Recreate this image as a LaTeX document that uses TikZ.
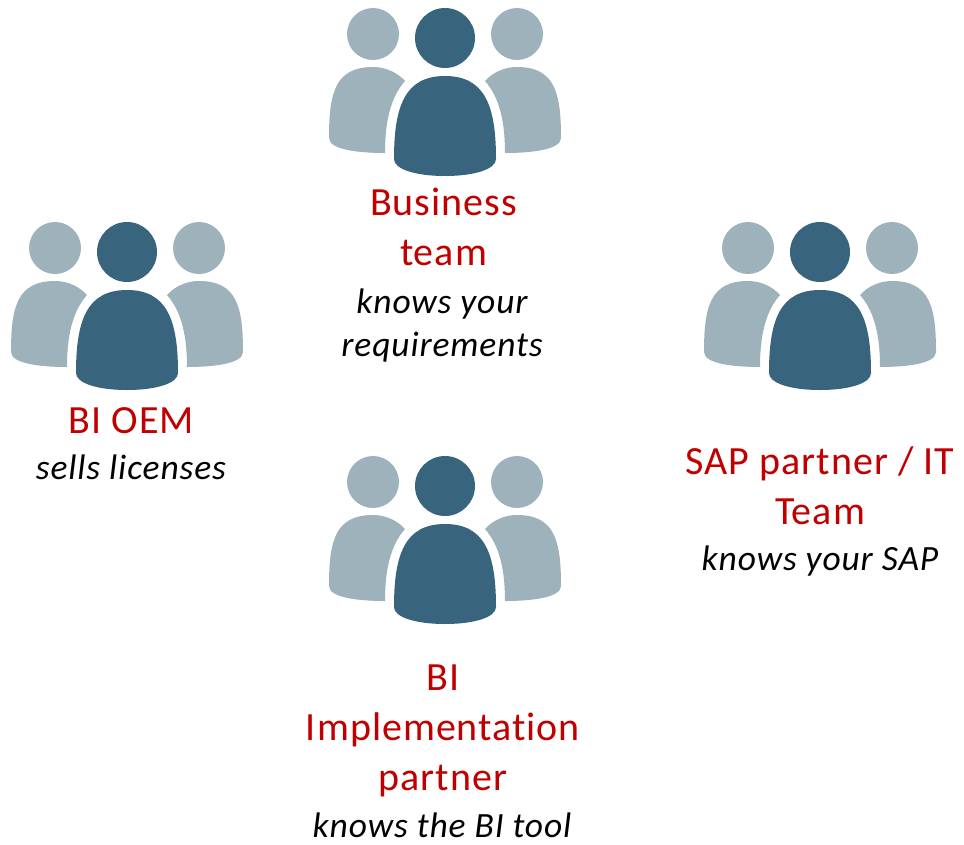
\documentclass[tikz,border=0pt]{standalone}
\usepackage{fontspec}
\setmainfont[LetterSpace=2.5,Ligatures=NoCommon]{Carlito}
\usepackage{tikz}
\definecolor{darkteal}{RGB}{56,100,126}
\definecolor{lightteal}{RGB}{158,178,188}
\definecolor{labelred}{RGB}{192,0,0}
\tikzset{
	teamname/.style = {text = labelred, font = \fontsize{40}{50}\selectfont, align = center, inner sep = 0},
	teamnote/.style = {font = \fontsize{35.5}{43}\selectfont\itshape, align = center, inner sep = 0},
	team/.pic = {
		\fill [lightteal] (-72,-4) circle (26);
		\fill [lightteal] (72,-4) circle (26);
		% left and right bodies
		\fill [lightteal] (-116,100) .. controls (-116,55) and (-110,29) .. (-72,29) .. controls (-60,29) and (-48,34) .. (-40,43) .. controls (-55,60) and (-60,85) .. (-60,115) .. controls (-85,115) and (-116,112) .. (-116,100) -- cycle;
		\fill [lightteal] (116,100) .. controls (116,55) and (110,29) .. (72,29) .. controls (60,29) and (48,34) .. (40,43) .. controls (55,60) and (60,85) .. (60,115) .. controls (85,115) and (116,112) .. (116,100) -- cycle;
		% middle person
		\fill [darkteal] (0,0) circle (30);
		\fill [darkteal] (-51,121) .. controls (-51,68) and (-40,38) .. (0,38) .. controls (40,38) and (51,68) .. (51,121) .. controls (51,131) and (30,138) .. (0,138) .. controls (-30,138) and (-51,131) .. (-51,121) -- cycle;
	}
}
\begin{document}
\begin{tikzpicture}[x = 1pt, y = -1pt]
	\useasboundingbox (0,0) rectangle (964,844);
	%\draw [help lines] (0,0) grid (964,844);
	\pic at (445,38) {team};
	\pic at (127,252) {team};
	\pic at (820,252) {team};
	\pic at (445,486) {team};
	\node [teamname] (business) at (443.5,227) {Business\\team};
	\node [teamnote] (businessnote) at (442,326) {knows your\\requirements};
	\node [teamname] (oem) at (131.5,421) {BI OEM};
	\node [teamnote] (oemnote) at (131,467) {sells licenses};
	\node [teamname] (sap) at (820,486) {SAP partner / IT\\Team};
	\node [teamnote] (sapnote) at (820,561) {knows your SAP};
	\node [teamname] (impl) at (443,731) {BI\\Implementation\\partner};
	\node [teamnote] (implnote) at (442,825) {knows the BI tool};
\end{tikzpicture}
\end{document}
